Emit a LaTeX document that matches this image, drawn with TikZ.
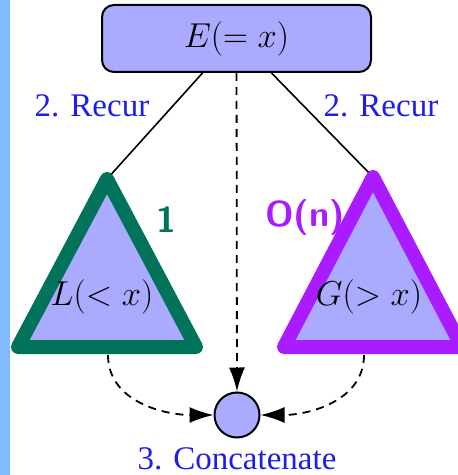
\documentclass[tikz,border=0pt]{standalone}
\usepackage{fontspec}
\setmainfont{Liberation Serif}
\usepackage{tikz}
\usetikzlibrary{positioning, arrows.meta, calc}
\definecolor{fillv}{HTML}{AAAAFF}
\definecolor{lgreen}{HTML}{00735A}
\definecolor{gpurple}{HTML}{AA1CFF}
\definecolor{stepblue}{HTML}{1E1EE6}
\definecolor{barblue}{HTML}{80BBFF}

\begin{document}
\begin{tikzpicture}[x=0.5pt, y=-0.5pt,
    every node/.style={font=\fontsize{16.5}{19}\selectfont},
    lbl/.style={text=stepblue},
    part/.style={fill=fillv, line width=7pt, line join=round},
    note/.style={font=\sffamily\bfseries\fontsize{18}{18}\selectfont},
    flow/.style={line width=0.9pt, dash pattern=on 4pt off 3pt,
      -{Latex[length=12pt, width=8pt]}}]
  \useasboundingbox (0,0) rectangle (458,475);
  \fill[barblue] (0,0) rectangle (10,475);

  % pivot box and the two parts
  \node[draw, fill=fillv, rounded corners=6pt, line width=1pt,
    minimum width=134.5pt, minimum height=33.5pt] (E) at (236.5,38.5) {$E(=x)$};
  \coordinate (Ltop) at (107,179);
  \coordinate (Gtop) at (373,177);
  \draw[line width=0.8pt] ([xshift=-17pt]E.south) -- (Ltop);
  \draw[line width=0.8pt] ([xshift=17.5pt]E.south) -- (Gtop);
  \draw[part, draw=lgreen] (Ltop) -- (196,347) -- (18,347) -- cycle;
  \draw[part, draw=gpurple] (Gtop) -- (462,347) -- (284,347) -- cycle;
  \node (Ltxt) at (102,297) {$L(<x)$};
  \node (Gtxt) at (369,297) {$G(>x)$};

  % labels
  \node[lbl] (recl) at (92,106) {2. Recur};
  \node[lbl] (recr) at (381,106) {2. Recur};
  \node[note, text=lgreen] (one) at (166,220) {1};
  \node[note, text=gpurple] (ordn) at (305,218) {O(n)};

  % concatenation
  \node[circle, draw, fill=fillv, line width=1pt, minimum size=22.5pt,
    inner sep=0pt] (C) at (237,415) {};
  \node[lbl, inner sep=1pt] (cat) at (237,459) {3. Concatenate};
  \coordinate (Lbot) at (108,355);
  \coordinate (Gbot) at (364,355);
  \draw[flow] (E) -- (C);
  \draw[flow] (Lbot) to[out=-90, in=180] (C.west);
  \draw[flow] (Gbot) to[out=-90, in=0] (C.east);
\end{tikzpicture}
\end{document}
